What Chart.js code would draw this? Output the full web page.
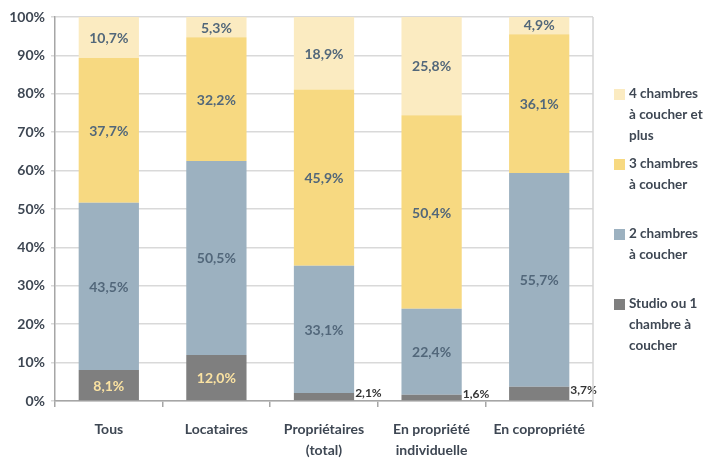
<!DOCTYPE html>
<html>
<head>
<meta charset="utf-8">
<script src="https://cdn.jsdelivr.net/npm/chart.js@4/dist/chart.umd.min.js"></script>
<style>
  html, body { margin: 0; padding: 0; background: #fff; }
  #wrap { width: 711px; height: 460px; position: relative; }
</style>
</head>
<body>
<div id="wrap"><canvas id="chartRooms"></canvas></div>
<script>
/* Répartition des logements selon le nombre de chambres (100 % empilé) */
const categories = [
  "Tous",
  "Locataires",
  ["Propriétaires", "(total)"],
  ["En propriété", "individuelle"],
  "En copropriété"
];

const seriesNames = [
  "Studio ou 1\nchambre à\ncoucher",
  "2 chambres\nà coucher",
  "3 chambres\nà coucher",
  "4 chambres\nà coucher et\nplus"
];

const studio    = [8.1, 12.0, 2.1, 1.6, 3.7];
const deux      = [43.5, 50.5, 33.1, 22.4, 55.7];
const trois     = [37.7, 32.2, 45.9, 50.4, 36.1];
const quatre    = [10.7, 5.3, 18.9, 25.8, 4.9];

const yTicks = [0, 10, 20, 30, 40, 50, 60, 70, 80, 90, 100];

const COLORS = ["#7F7F7F", "#9CB1C0", "#F7D981", "#FBEBC1"];
const LABEL_COLORS = ["#FBE3A2", "#52677A", "#52677A", "#52677A"];
const FONT = "Lato, 'Open Sans', sans-serif";
const TEXT = "#3E4753";

const fmt = v => v.toFixed(1).replace(".", ",") + "%";

// valeurs au centre des segments; petites valeurs à droite de la barre
const barLabels = {
  id: "barLabels",
  afterDatasetsDraw(chart) {
    const ctx = chart.ctx;
    ctx.save();
    chart.data.datasets.forEach((ds, di) => {
      const meta = chart.getDatasetMeta(di);
      meta.data.forEach((bar, i) => {
        const v = ds.data[i];
        const p = bar.getProps(["x", "y", "base", "width"], true);
        const cy = (p.y + p.base) / 2;
        if (v < 5 && di === 0) {
          ctx.font = "bold 12px " + FONT;
          ctx.fillStyle = "#333";
          ctx.textAlign = "left";
          ctx.textBaseline = "middle";
          ctx.fillText(fmt(v), p.x + p.width / 2 + 1, cy - 3);
        } else {
          ctx.font = "bold 14px " + FONT;
          ctx.fillStyle = LABEL_COLORS[di];
          ctx.textAlign = "center";
          ctx.textBaseline = "middle";
          ctx.fillText(fmt(v), p.x, cy + 1);
        }
      });
    });
    ctx.restore();
  }
};

// légende à droite, texte sur plusieurs lignes, ordre inversé
const sideLegend = {
  id: "sideLegend",
  afterDraw(chart) {
    const ctx = chart.ctx;
    const area = chart.chartArea;
    ctx.save();
    // bordure droite de la zone de tracé
    ctx.strokeStyle = "#D4D4D4";
    ctx.lineWidth = 1.5;
    ctx.beginPath();
    ctx.moveTo(area.right, area.top);
    ctx.lineTo(area.right, area.bottom);
    ctx.stroke();

    const x0 = area.right + 21;
    let y = 94;
    const n = chart.data.datasets.length;
    ctx.font = "bold 13.5px " + FONT;
    ctx.textAlign = "left";
    ctx.textBaseline = "middle";
    for (let k = n - 1; k >= 0; k--) {
      const ds = chart.data.datasets[k];
      ctx.fillStyle = ds.backgroundColor;
      ctx.fillRect(x0, y - 5, 11, 11);
      ctx.fillStyle = TEXT;
      ds.label.split("\n").forEach((line, j) => {
        ctx.fillText(line, x0 + 15, y + j * 21);
      });
      y += 70;
    }
    ctx.restore();
  }
};

const datasets = [studio, deux, trois, quatre].map((data, i) => ({
  label: seriesNames[i],
  data,
  backgroundColor: COLORS[i],
  borderWidth: 0,
  categoryPercentage: 1,
  barPercentage: 0.56
}));

new Chart(document.getElementById("chartRooms"), {
  type: "bar",
  data: { labels: categories, datasets },
  plugins: [barLabels, sideLegend],
  options: {
    responsive: true,
    maintainAspectRatio: false,
    animation: false,
    layout: { padding: { top: 17, right: 118, left: 0, bottom: 0 } },
    plugins: {
      legend: { display: false },
      tooltip: { enabled: false }
    },
    scales: {
      x: {
        stacked: true,
        offset: true,
        grid: {
          offset: true,
          drawOnChartArea: false,
          tickLength: 6,
          color: "#A6A6A6",
          lineWidth: 1.5
        },
        border: { color: "#A6A6A6", width: 1.5 },
        ticks: {
          color: TEXT,
          font: { family: FONT, size: 14, weight: "bold", lineHeight: 1.5 },
          padding: 12,
          maxRotation: 0,
          autoSkip: false
        },
        afterFit: s => { s.height = 59; }
      },
      y: {
        stacked: true,
        min: 0,
        max: 100,
        afterBuildTicks: s => { s.ticks = yTicks.map(v => ({ value: v })); },
        grid: { color: "#D9D9D9", lineWidth: 1.5, tickLength: 4 },
        border: { color: "#A6A6A6", width: 1.5 },
        ticks: {
          color: TEXT,
          font: { family: FONT, size: 14, weight: "bold" },
          padding: 6,
          callback: v => v + "%"
        },
        afterFit: s => { s.width = 55; }
      }
    }
  }
});
</script>
</body>
</html>
